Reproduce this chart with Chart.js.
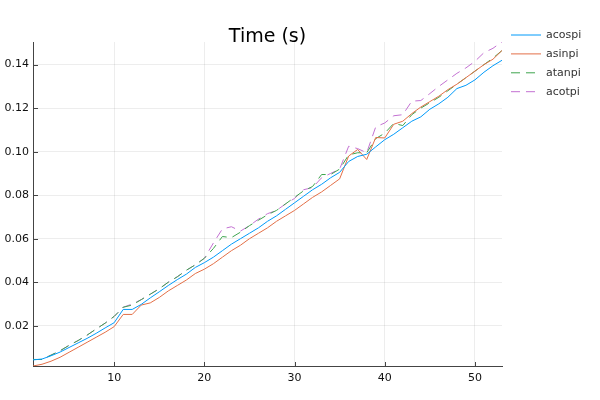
<!DOCTYPE html>
<html lang="en">

<head>
    <meta charset="UTF-8">
    <title>Time (s)</title>
    <style>
        body { margin: 0; background: #fff; }
    </style>
</head>

<body>
    <canvas id="myChart" width="600" height="400"></canvas>

    <script src="https://cdn.jsdelivr.net/npm/chart.js"></script>
    <script>
        const xs = [1, 2, 3, 4, 5, 6, 7, 8, 9, 10, 11, 12, 13, 14, 15, 16, 17, 18, 19, 20,
            21, 22, 23, 24, 25, 26, 27, 28, 29, 30, 31, 32, 33, 34, 35, 36, 37, 38, 39, 40,
            41, 42, 43, 44, 45, 46, 47, 48, 49, 50, 51, 52, 53];

        const acospi = [0.0043, 0.0047, 0.0062, 0.0079, 0.0100, 0.0121, 0.0142, 0.0165, 0.0190, 0.0214,
            0.0275, 0.0275, 0.0298, 0.0328, 0.0356, 0.0385, 0.0412, 0.0437, 0.0468, 0.0490,
            0.0515, 0.0545, 0.0575, 0.0600, 0.0625, 0.0650, 0.0680, 0.0705, 0.0735, 0.0765,
            0.0795, 0.0825, 0.0850, 0.0880, 0.0905, 0.0955, 0.0978, 0.0988, 0.1022, 0.1055,
            0.1080, 0.1110, 0.1140, 0.1160, 0.1195, 0.1220, 0.1250, 0.1290, 0.1305, 0.1330,
            0.1365, 0.1395, 0.1420];

        const asinpi = [0.0015, 0.0023, 0.0037, 0.0055, 0.0078, 0.0101, 0.0124, 0.0147, 0.0170, 0.0196,
            0.0252, 0.0252, 0.0295, 0.0305, 0.0330, 0.0360, 0.0385, 0.0410, 0.0440, 0.0460,
            0.0485, 0.0515, 0.0545, 0.0570, 0.0600, 0.0625, 0.0650, 0.0680, 0.0705, 0.0730,
            0.0760, 0.0790, 0.0815, 0.0845, 0.0875, 0.0980, 0.1010, 0.0964, 0.1065, 0.1063,
            0.1126, 0.1140, 0.1175, 0.1205, 0.1230, 0.1255, 0.1285, 0.1310, 0.1340, 0.1370,
            0.1400, 0.1425, 0.1465];

        const atanpi = [0.0045, 0.0045, 0.0065, 0.0085, 0.0110, 0.0132, 0.0157, 0.0185, 0.0212, 0.0243,
            0.0285, 0.0295, 0.0320, 0.0345, 0.0370, 0.0400, 0.0425, 0.0455, 0.0480, 0.0510,
            0.0555, 0.0610, 0.0605, 0.0630, 0.0660, 0.0685, 0.0710, 0.0730, 0.0760, 0.0790,
            0.0820, 0.0840, 0.0895, 0.0895, 0.0920, 0.0985, 0.0995, 0.0995, 0.1060, 0.1085,
            0.1130, 0.1120, 0.1170, 0.1200, 0.1225, 0.1250, 0.1280, 0.1310, 0.1340, 0.1370,
            0.1400, 0.1430, 0.1465];

        const acotpi = [0.0045, 0.0045, 0.0065, 0.0085, 0.0110, 0.0132, 0.0157, 0.0185, 0.0212, 0.0243,
            0.0285, 0.0300, 0.0320, 0.0345, 0.0370, 0.0400, 0.0425, 0.0455, 0.0480, 0.0510,
            0.0580, 0.0645, 0.0655, 0.0635, 0.0660, 0.0690, 0.0715, 0.0730, 0.0760, 0.0785,
            0.0825, 0.0835, 0.0880, 0.0900, 0.0920, 0.1025, 0.1014, 0.0995, 0.1114, 0.1132,
            0.1165, 0.1170, 0.1232, 0.1235, 0.1267, 0.1300, 0.1330, 0.1360, 0.1385, 0.1415,
            0.1455, 0.1475, 0.1505];

        const xTicks = [10, 20, 30, 40, 50];
        const yTicks = [0.02, 0.04, 0.06, 0.08, 0.10, 0.12, 0.14];

        const font = "'DejaVu Sans', sans-serif";

        function pts(ys) {
            return xs.map((x, i) => ({ x: x, y: ys[i] }));
        }

        // title, outside legend and inward tick marks (GR look)
        const extras = {
            id: 'extras',
            afterDatasetsDraw(chart) {
                const ctx = chart.ctx;
                const area = chart.chartArea;
                const sx = chart.scales.x, sy = chart.scales.y;
                ctx.save();
                ctx.strokeStyle = '#444';
                ctx.lineWidth = 1;
                ctx.beginPath();
                for (const v of xTicks) {
                    const px = Math.round(sx.getPixelForValue(v)) + 0.5;
                    ctx.moveTo(px, area.bottom);
                    ctx.lineTo(px, area.bottom - 4);
                }
                for (const v of yTicks) {
                    const py = Math.round(sy.getPixelForValue(v)) + 0.5;
                    ctx.moveTo(area.left, py);
                    ctx.lineTo(area.left + 5, py);
                }
                ctx.stroke();

                ctx.fillStyle = '#000';
                ctx.font = "19px " + font;
                ctx.textAlign = 'center';
                ctx.textBaseline = 'alphabetic';
                ctx.fillText('Time (s)', (area.left + area.right) / 2, 42);

                ctx.font = "11px " + font;
                ctx.textAlign = 'left';
                ctx.textBaseline = 'middle';
                chart.data.datasets.forEach((ds, i) => {
                    const y = 35 + i * 18.9;
                    ctx.strokeStyle = ds.borderColor;
                    ctx.setLineDash(ds.borderDash || []);
                    ctx.beginPath();
                    ctx.moveTo(511, y);
                    ctx.lineTo(541, y);
                    ctx.stroke();
                    ctx.setLineDash([]);
                    ctx.fillStyle = '#333';
                    ctx.fillText(ds.label, 546, y);
                });
                ctx.restore();
            }
        };

        const ctx = document.getElementById('myChart');
        new Chart(ctx, {
            type: 'line',
            data: {
                datasets: [
                    { label: 'acospi', data: pts(acospi), borderColor: '#009AFA' },
                    { label: 'asinpi', data: pts(asinpi), borderColor: '#E36F47' },
                    { label: 'atanpi', data: pts(atanpi), borderColor: '#3EA44E', borderDash: [9, 6] },
                    { label: 'acotpi', data: pts(acotpi), borderColor: '#C371D2', borderDash: [9, 6] }
                ]
            },
            options: {
                responsive: false,
                animation: false,
                devicePixelRatio: 1,
                layout: { padding: { top: 42, right: 98, left: 0, bottom: 0 } },
                elements: {
                    point: { radius: 0 },
                    line: { borderWidth: 1, tension: 0 }
                },
                plugins: {
                    legend: { display: false },
                    title: { display: false },
                    tooltip: { enabled: false }
                },
                scales: {
                    x: {
                        type: 'linear',
                        min: 1,
                        max: 53,
                        afterFit(scale) { scale.height = 34; },
                        afterBuildTicks(scale) { scale.ticks = xTicks.map(v => ({ value: v })); },
                        grid: { color: 'rgba(0,0,0,0.07)', drawTicks: false },
                        border: { color: '#444', width: 1 },
                        ticks: { color: '#111', padding: 6, font: { family: font, size: 11 } }
                    },
                    y: {
                        min: 0.0015,
                        max: 0.1504,
                        afterFit(scale) { scale.width = 33; },
                        afterBuildTicks(scale) { scale.ticks = yTicks.map(v => ({ value: v })); },
                        grid: { color: 'rgba(0,0,0,0.07)', drawTicks: false },
                        border: { color: '#444', width: 1 },
                        ticks: {
                            color: '#111',
                            padding: 4,
                            font: { family: font, size: 11 },
                            callback: v => v.toFixed(2)
                        }
                    }
                }
            },
            plugins: [extras]
        });
    </script>
</body>

</html>
